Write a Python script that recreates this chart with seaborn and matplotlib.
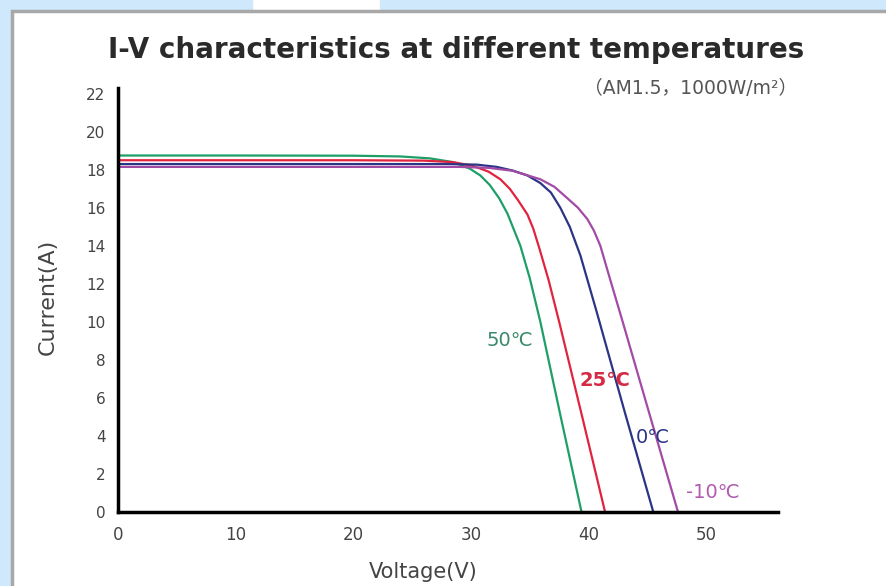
import numpy as np
import pandas as pd
import seaborn as sns
import matplotlib.pyplot as plt
from matplotlib.patches import Rectangle
from matplotlib.ticker import MultipleLocator

# I-V curves (voltage in V, current in A)
v_50 = [0, 10, 20, 24, 26.5, 28.5, 29.9, 30.8, 31.6, 32.4, 33.1, 34.2, 35.0, 35.9, 37.6, 39.4]
i_50 = [18.75, 18.75, 18.74, 18.7, 18.6, 18.4, 18.06, 17.7, 17.2, 16.5, 15.7, 14.0, 12.3, 10.0, 5.1, 0]

v_25 = [0, 10, 20, 26, 28.5, 30.2, 31.5, 32.5, 33.3, 34.0, 34.8, 35.3, 35.8, 36.6, 37.5, 39.5, 41.4]
i_25 = [18.5, 18.5, 18.5, 18.48, 18.4, 18.2, 17.9, 17.5, 17.0, 16.4, 15.65, 14.9, 13.9, 12.2, 10.0, 4.9, 0]

v_0 = [0, 10, 20, 28, 30.5, 32.2, 33.6, 34.8, 35.9, 36.8, 37.6, 38.4, 39.3, 40.7, 43.1, 45.5]
i_0 = [18.3, 18.3, 18.3, 18.3, 18.27, 18.15, 17.95, 17.7, 17.3, 16.8, 16.0, 15.0, 13.5, 10.5, 5.2, 0]

v_m10 = [0, 10, 20, 29, 31.5, 33.5, 35.9, 37.1, 38.2, 39.1, 39.9, 40.45, 41.0, 41.8, 42.9, 45.2, 47.6]
i_m10 = [18.15, 18.15, 18.15, 18.15, 18.1, 17.95, 17.5, 17.1, 16.5, 16.0, 15.4, 14.8, 14.0, 12.3, 10.0, 5.1, 0]

temps = ["50℃", "25℃", "0℃", "-10℃"]
colors = ["#1e9e68", "#e0233f", "#2b3585", "#a24aa6"]
label_colors = ["#3a8a6a", "#d42a44", "#2b3585", "#b05ab0"]
# label anchor positions in data units (voltage, current)
label_v = [33.3, 41.4, 45.5, 50.6]
label_i = [9.0, 6.9, 3.9, 1.05]

frames = []
for t, v, i in zip(temps, [v_50, v_25, v_0, v_m10], [i_50, i_25, i_0, i_m10]):
    frames.append(pd.DataFrame({"Voltage": v, "Current": i, "Temp": t}))
df = pd.concat(frames, ignore_index=True)

sns.set_style("white")
plt.rcParams["font.family"] = ["DejaVu Sans"]

fig = plt.figure(figsize=(8.87, 5.86), dpi=100, facecolor="white")

# light blue page decoration behind the white card
W, H = 887, 586
def px_rect(x0, y0, x1, y1, **kw):
    fig.patches.append(Rectangle((x0 / W, 1 - y1 / H), (x1 - x0) / W, (y1 - y0) / H,
                                 transform=fig.transFigure, **kw))

px_rect(0, 0, 252, 9, color="#cfe8fb", zorder=0)
px_rect(380, 0, 887, 9, color="#cfe8fb", zorder=0)
px_rect(0, 0, 10, 586, color="#cfe8fb", zorder=0)
px_rect(12, 11, 890, 590, facecolor="white", edgecolor="#a8a8a8", linewidth=2.5, zorder=1)

ax = fig.add_axes([118 / W, 1 - 512 / H, 660 / W, 424 / H])
ax.set_zorder(2)
ax.patch.set_alpha(0)

sns.lineplot(data=df, x="Voltage", y="Current", hue="Temp", palette=colors,
             sort=False, estimator=None, linewidth=1.6, legend=False, ax=ax)

ax.set_xlim(0, 56.1)
ax.set_ylim(0, 22.3)
ax.xaxis.set_major_locator(MultipleLocator(10))
ax.xaxis.set_minor_locator(MultipleLocator(5))
ax.yaxis.set_major_locator(MultipleLocator(2))
ax.yaxis.set_minor_locator(MultipleLocator(0.5))
ax.set_xticks([0, 10, 20, 30, 40, 50])

for side in ["top", "right"]:
    ax.spines[side].set_visible(False)
for side in ["left", "bottom"]:
    ax.spines[side].set_linewidth(2.5)
    ax.spines[side].set_color("black")

ax.tick_params(axis="both", which="major", direction="out", length=7, width=2.2,
               color="black", labelsize=11, labelcolor="#444444", pad=2)
ax.tick_params(axis="x", which="major", labelsize=12, pad=3)
ax.tick_params(axis="both", which="minor", direction="out", length=4, width=1.8,
               color="black")
ax.tick_params(axis="x", which="minor", length=6)

ax.set_xlabel("Voltage(V)", fontsize=15, color="#444444")
ax.set_ylabel("Current(A)", fontsize=16, color="#444444")
ax.xaxis.set_label_coords((423 - 118) / 660, (512 - 572) / 424)
ax.yaxis.set_label_coords((48 - 118) / 660, (512 - 297) / 424)
ax.xaxis.label.set_va("center")
ax.yaxis.label.set_va("center")

for t, lv, li, c in zip(temps, label_v, label_i, label_colors):
    ax.text(lv, li, t, fontsize=14, color=c, ha="center", va="center",
            fontweight="bold" if t == "25℃" else "normal")

fig.text(456 / W, 1 - 50 / H, "I-V characteristics at different temperatures",
         fontsize=20, fontweight="bold", color="#2a2a2a", ha="center", va="center")
fig.text(797 / W, 1 - 88 / H, "（AM1.5，1000W/m²）", fontsize=13.5, color="#555555",
         ha="right", va="center", family=["DejaVu Sans", "Noto Sans CJK SC"])

fig.savefig("out.png", dpi=100, facecolor=fig.get_facecolor())
